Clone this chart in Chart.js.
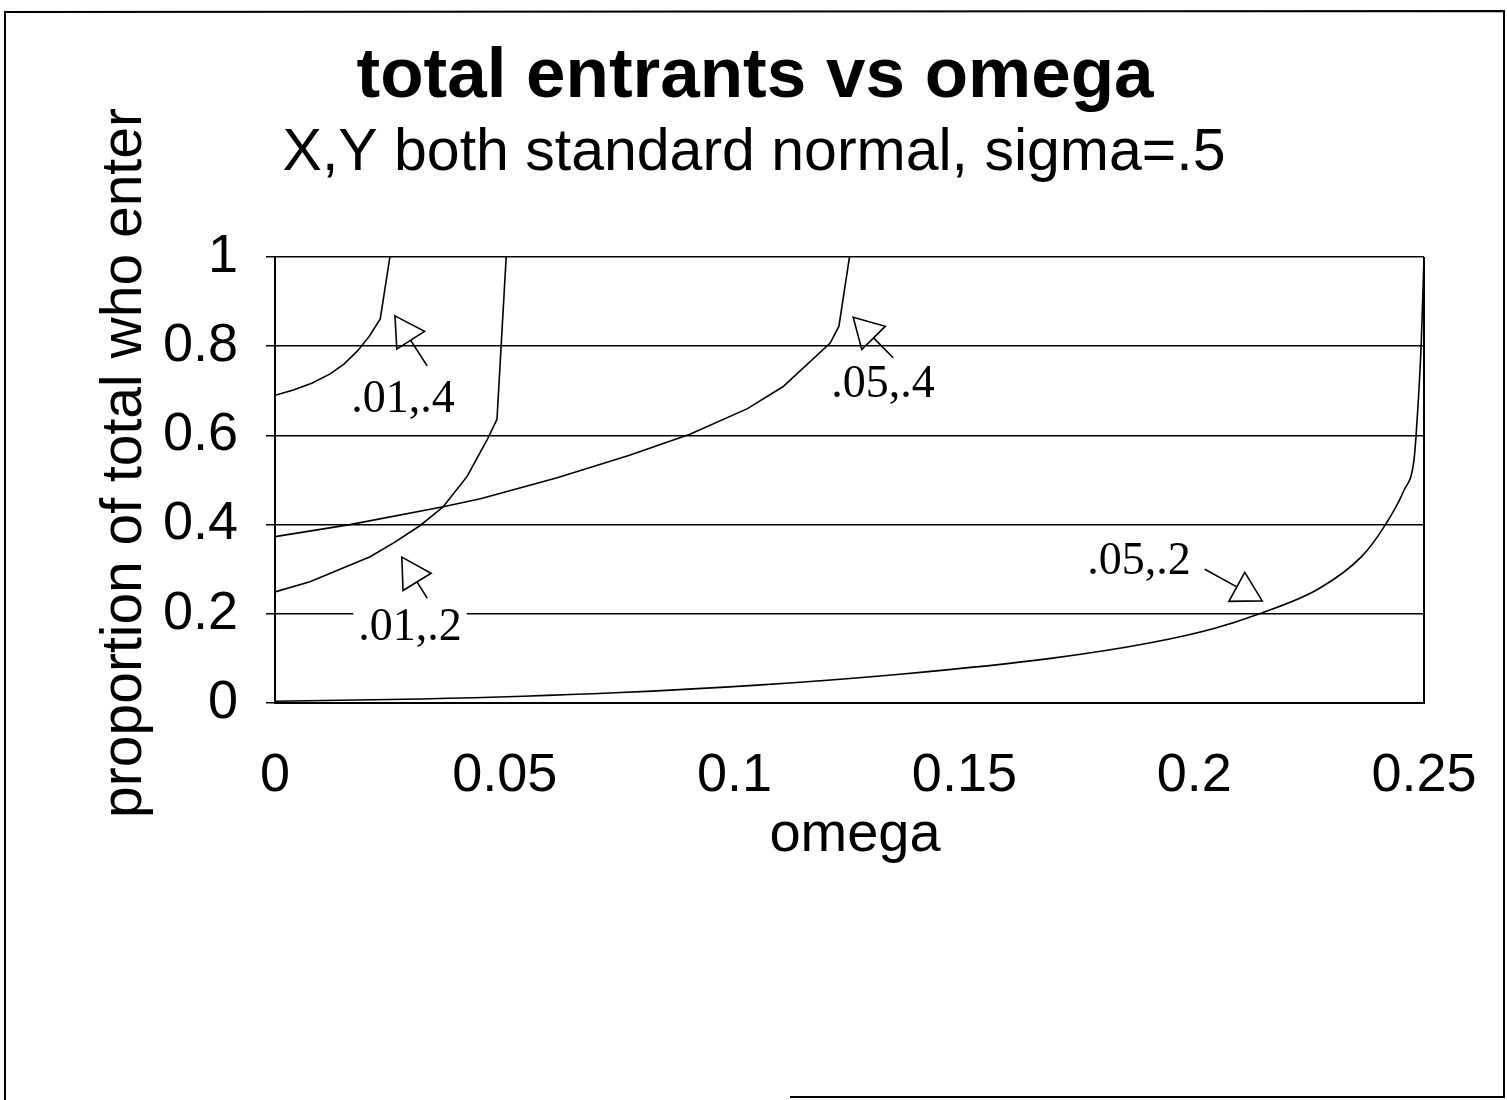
<!DOCTYPE html>
<html><head><meta charset="utf-8">
<script src="https://cdn.jsdelivr.net/npm/chart.js@4"></script>
<style>html,body{margin:0;padding:0;background:#fff}canvas{display:block}</style>
</head><body>
<canvas id="c" width="1507" height="1100"></canvas>
<script>
// ---- text ----
const titleText = 'total entrants vs omega';
const subtitleText = 'X,Y both standard normal, sigma=.5';
const xAxisTitle = 'omega';
const yAxisTitle = 'proportion of total who enter';
const xTickLabels = ['0', '0.05', '0.1', '0.15', '0.2', '0.25'];
const yTickLabels = ['0', '0.2', '0.4', '0.6', '0.8', '1'];
const seriesNames = ['.01,.4', '.01,.2', '.05,.4', '.05,.2'];

// ---- data ----
const omega_01_4    = [0, 0.004, 0.008, 0.012, 0.015, 0.018, 0.0205, 0.0229, 0.025];
const entrants_01_4 = [0.69, 0.702, 0.717, 0.738, 0.760, 0.790, 0.822, 0.861, 1.0];

const omega_01_2    = [0, 0.0076, 0.0207, 0.026, 0.0316, 0.0366, 0.0418, 0.0462, 0.0483, 0.0503];
const entrants_01_2 = [0.249, 0.272, 0.328, 0.36, 0.398, 0.44, 0.508, 0.591, 0.636, 1.0];

const omega_05_4    = [0, 0.0163, 0.0366, 0.0447, 0.0614, 0.0773, 0.0904, 0.1028, 0.1105, 0.1208, 0.1227, 0.125];
const entrants_05_4 = [0.373, 0.40, 0.44, 0.458, 0.505, 0.556, 0.603, 0.66, 0.709, 0.807, 0.845, 1.0];

const omega_05_2    = [0, 0.032, 0.074, 0.105, 0.1366, 0.1688, 0.1905, 0.2043, 0.2139, 0.2269, 0.2363, 0.2413, 0.2456, 0.2478, 0.2483, 0.2494, 0.25];
const entrants_05_2 = [0.004, 0.009, 0.023, 0.04, 0.065, 0.1, 0.135, 0.167, 0.199, 0.255, 0.327, 0.395, 0.476, 0.543, 0.604, 0.806, 1.0];

// ---- annotation anchors (data coordinates) ----
const labelAnchors = [
  { text: seriesNames[0], x: 0.02785, y: 0.6525 },
  { text: seriesNames[1], x: 0.02937, y: 0.1413 },
  { text: seriesNames[2], x: 0.1323,  y: 0.6861 },
  { text: seriesNames[3], x: 0.188,   y: 0.29 }
];
const arrowAnchors = [
  { x0: 0.0331, y0: 0.756, x1: 0.0261, y1: 0.868 },
  { x0: 0.0331, y0: 0.235, x1: 0.0276, y1: 0.327 },
  { x0: 0.1345, y0: 0.774, x1: 0.1258, y1: 0.865 },
  { x0: 0.2023, y0: 0.300, x1: 0.2148, y1: 0.229 }
];
const smoothSeries = [false, false, false, true];

const pts = (xs, ys) => xs.map((x, i) => ({ x: x, y: ys[i] }));
const seriesData = [
  pts(omega_01_4, entrants_01_4),
  pts(omega_01_2, entrants_01_2),
  pts(omega_05_4, entrants_05_4),
  pts(omega_05_2, entrants_05_2)
];

const SANS = '"Liberation Sans", Arial, sans-serif';
const SERIF = '"Liberation Serif", "Times New Roman", serif';

const decor = {
  id: 'decor',
  afterDraw(chart) {
    const ctx = chart.ctx;
    const a = chart.chartArea;
    const xs = chart.scales.x, ys = chart.scales.y;
    ctx.save();
    ctx.strokeStyle = '#000';
    ctx.fillStyle = '#000';

    // right border of plot area
    ctx.lineWidth = 2;
    ctx.beginPath();
    ctx.moveTo(a.right, a.top);
    ctx.lineTo(a.right, a.bottom + 1);
    ctx.stroke();

    // outer frame
    ctx.lineWidth = 2;
    ctx.beginPath();
    ctx.moveTo(790, 1097);
    ctx.lineTo(1504, 1097);
    ctx.lineTo(1504, 11);
    ctx.lineTo(5, 12);
    ctx.lineTo(5, 1100);
    ctx.stroke();

    // titles
    ctx.textAlign = 'center';
    ctx.textBaseline = 'alphabetic';
    ctx.font = 'bold 71px ' + SANS;
    ctx.fillText(titleText, 755, 97);
    ctx.font = '59px ' + SANS;
    ctx.fillText(subtitleText, 754, 170);

    // axis titles
    ctx.font = '56px ' + SANS;
    ctx.fillText(xAxisTitle, 855, 851);
    ctx.save();
    ctx.font = '57px ' + SANS;
    ctx.translate(141, 463);
    ctx.rotate(-Math.PI / 2);
    ctx.fillText(yAxisTitle, 0, 0);
    ctx.restore();

    // series labels
    ctx.font = '46px ' + SERIF;
    labelAnchors.forEach(l => {
      const px = xs.getPixelForValue(l.x);
      const py = ys.getPixelForValue(l.y);
      const w = ctx.measureText(l.text).width;
      ctx.fillStyle = '#fff';
      ctx.fillRect(px - w / 2 - 5, py - 33, w + 10, 42);
      ctx.fillStyle = '#000';
      ctx.fillText(l.text, px, py);
    });

    // arrows with open triangular heads
    ctx.lineWidth = 1.6;
    arrowAnchors.forEach(r => {
      const sx = xs.getPixelForValue(r.x0), sy = ys.getPixelForValue(r.y0);
      const tx = xs.getPixelForValue(r.x1), ty = ys.getPixelForValue(r.y1);
      const dx = tx - sx, dy = ty - sy;
      const len = Math.hypot(dx, dy);
      const ux = dx / len, uy = dy / len;
      const L = 29, W = 16.5;
      const bx = tx - ux * L, by = ty - uy * L;
      ctx.beginPath();
      ctx.moveTo(sx, sy);
      ctx.lineTo(bx, by);
      ctx.stroke();
      ctx.beginPath();
      ctx.moveTo(tx, ty);
      ctx.lineTo(bx - uy * W, by + ux * W);
      ctx.lineTo(bx + uy * W, by - ux * W);
      ctx.closePath();
      ctx.stroke();
    });
    ctx.restore();
  }
};

new Chart(document.getElementById('c'), {
  type: 'scatter',
  data: {
    datasets: seriesData.map((d, i) => ({
      label: seriesNames[i],
      data: d,
      showLine: true,
      borderColor: '#000',
      borderWidth: 1.6,
      pointRadius: 0,
      tension: 0,
      cubicInterpolationMode: smoothSeries[i] ? 'monotone' : 'default',
      fill: false
    }))
  },
  options: {
    responsive: false,
    devicePixelRatio: 1,
    animation: false,
    events: [],
    layout: { padding: { left: 0, top: 257, right: 83, bottom: 0 } },
    plugins: { legend: { display: false }, tooltip: { enabled: false }, title: { display: false } },
    scales: {
      x: {
        type: 'linear',
        min: 0, max: 0.25,
        afterFit: s => { s.height = 397; s.paddingLeft = 0; s.paddingRight = 0; },
        grid: { display: false, drawTicks: false },
        border: { display: true, color: '#000', width: 2 },
        ticks: {
          stepSize: 0.05,
          padding: 41,
          color: '#000',
          font: { family: SANS, size: 54 },
          maxRotation: 0,
          autoSkip: false,
          callback: (v, i) => xTickLabels[i]
        }
      },
      y: {
        type: 'linear',
        min: 0, max: 1,
        afterFit: s => { s.width = 275; s.paddingTop = 0; s.paddingBottom = 0; },
        grid: { color: '#000', lineWidth: 1.5, drawTicks: true, tickLength: 9 },
        border: { display: true, color: '#000', width: 2 },
        ticks: {
          stepSize: 0.2,
          padding: 28,
          color: '#000',
          font: { family: SANS, size: 54 },
          autoSkip: false,
          callback: (v, i) => yTickLabels[i]
        }
      }
    }
  },
  plugins: [decor]
});
</script>
</body></html>
